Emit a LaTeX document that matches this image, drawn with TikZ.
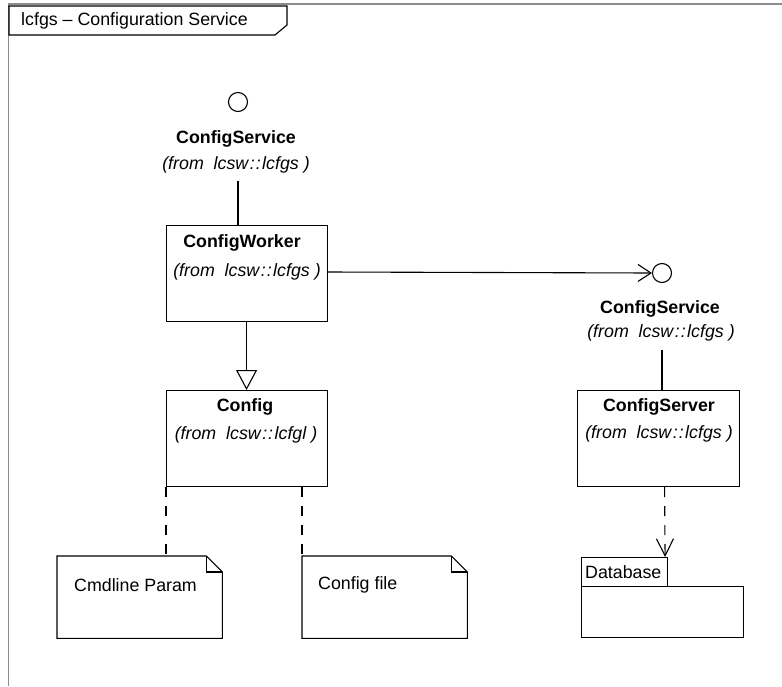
\documentclass[tikz,border=0pt]{standalone}
\usepackage{fontspec}
\setmainfont{Liberation Sans}
\usetikzlibrary{arrows.meta,calc}
\newcommand{\frm}[1]{(from\ \ lcsw\kern1.5pt:\kern1pt:\kern1.5pt#1\ )}
\tikzset{
  ln/.style={line width=1.1pt, black},
  boxnode/.style={draw, line width=1.1pt, minimum width=161pt, minimum height=96pt, inner sep=0pt, anchor=north west},
  iface/.style={draw, line width=1.1pt, circle, minimum size=19pt, inner sep=0pt},
  bt/.style={font=\fontsize{17.8}{20}\selectfont\bfseries, inner sep=0pt},
  it/.style={font=\fontsize{17.8}{20}\selectfont\itshape, inner sep=0pt},
  rt/.style={font=\fontsize{17.8}{20}\selectfont, inner sep=0pt},
  notebox/.style={minimum width=165pt, minimum height=82pt, inner sep=0pt, anchor=north west},
  dsh/.style={ln, dash pattern=on 10pt off 9pt},
}
\begin{document}
\begin{tikzpicture}[x=1pt,y=-1pt]
\useasboundingbox (0,0) rectangle (782,686);
% frame
\draw[line width=1.3pt, black!45] (8.5,686) -- (8.5,4) -- (782,4);
\draw[ln, fill=white] (9,6) -- (287,6) -- (287,25) -- (275,35) -- (9,35) -- cycle;
\node[rt, anchor=west] (title) at (21,21) {lcfgs -- Configuration Service};

% left interface
\node[iface] (circ1) at (238,102) {};
\node[bt] (cs1) at (236,139) {ConfigService};
\node[it] (cs1from) at (236,165) {\frm{lcfgs}};

% ConfigWorker
\node[boxnode] (worker) at (166,225) {};
\node[bt] (workert) at (242,243) {ConfigWorker};
\node[it] (workerf) at (247,272) {\frm{lcfgs}};

% Config
\node[boxnode, minimum height=96pt] (config) at (166,390) {};
\node[bt] (configt) at (245,407) {Config};
\node[it] (configf) at (246,435) {\frm{lcfgl}};

% right interface
\node[iface] (circ2) at (662,273) {};
\node[bt] (cs2) at (660,309) {ConfigService};
\node[it] (cs2from) at (661,333) {\frm{lcfgs}};

% ConfigServer
\node[boxnode, minimum width=162pt] (server) at (577,390) {};
\node[bt] (servert) at (659,407) {ConfigServer};
\node[it] (serverf) at (659,434) {\frm{lcfgs}};

% Database package
\node[draw, line width=1.1pt, minimum width=86pt, minimum height=29pt, inner sep=0pt, anchor=north west] (dbtab) at (581,557) {};
\node[rt, anchor=west] (dbt) at (585,572) {Database};
\node[draw, line width=1.1pt, minimum width=162pt, minimum height=51pt, inner sep=0pt, anchor=north west] (dbbody) at (581,586) {};

% notes
\node[notebox] (note1) at (57,556) {};
\draw[ln] (note1.north west) -- ($(note1.north east)+(-16,0)$) -- ($(note1.north east)+(0,16)$) -- (note1.south east) -- (note1.south west) -- cycle;
\draw[ln] ($(note1.north east)+(-16,0)$) -- ($(note1.north east)+(-16,16)$) -- ($(note1.north east)+(0,16)$);
\node[rt, anchor=west] (note1t) at (74,585) {Cmdline Param};

\node[notebox] (note2) at (302,556) {};
\draw[ln] (note2.north west) -- ($(note2.north east)+(-16,0)$) -- ($(note2.north east)+(0,16)$) -- (note2.south east) -- (note2.south west) -- cycle;
\draw[ln] ($(note2.north east)+(-16,0)$) -- ($(note2.north east)+(-16,16)$) -- ($(note2.north east)+(0,16)$);
\node[rt, anchor=west] (note2t) at (318,585) {Config file};

% connectors
\draw[ln, shorten <=7pt] (cs1from.south -| circ1) -- (worker.north -| circ1);
\draw[ln, -{Straight Barb[length=13pt,width=17pt,line width=1.1pt]}] (worker.east |- workerf) -- (circ2.west);
\draw[ln, shorten <=8pt] (cs2from.south -| circ2) -- (server.north -| circ2);
\draw[ln, -{Triangle[open,length=20pt,width=21pt,line width=1.1pt]}] ($(worker.south)+(-0.5,0)$) -- ($(config.north)+(-0.5,0)$);
\draw[dsh] (config.south west) -- (config.south west |- note1.north);
\draw[dsh] (note2.north west |- config.south) -- (note2.north west);
\draw[dsh, -{Straight Barb[length=17pt,width=17pt,line width=1.1pt]}] ($(server.south)+(6,0)$) -- ($(dbtab.north east)+(-3,0)$);
\end{tikzpicture}
\end{document}
